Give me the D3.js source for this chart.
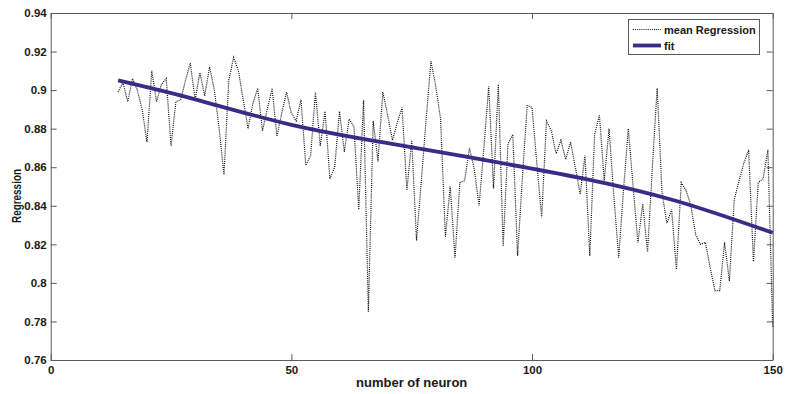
<!DOCTYPE html>
<html>
<head>
<meta charset="utf-8">
<script src="https://cdn.jsdelivr.net/npm/d3@7/dist/d3.min.js"></script>
<style>
  body { margin: 0; background: #fff; }
  svg text { font-family: "Liberation Sans", Arial, sans-serif; font-weight: bold; fill: #1a1a1a; }
</style>
</head>
<body>
<svg id="chart" width="787" height="394"></svg>
<script>
// neuron counts 14..150 and the mean regression
var neurons = d3.range(14, 151);
var meanRegression = [
  0.899, 0.904, 0.894, 0.906, 0.900, 0.890, 0.873, 0.910, 0.894, 0.903,
  0.906, 0.871, 0.894, 0.895, 0.905, 0.914, 0.895, 0.909, 0.897, 0.912,
  0.900, 0.880, 0.856, 0.905, 0.917, 0.910, 0.895, 0.880, 0.893, 0.901,
  0.879, 0.890, 0.901, 0.876, 0.888, 0.899,
  0.888, 0.884, 0.895, 0.861, 0.866, 0.899, 0.871, 0.889, 0.854, 0.860,
  0.889, 0.868, 0.885, 0.881, 0.838, 0.895, 0.785, 0.884, 0.863, 0.899,
  0.887, 0.874, 0.883, 0.891, 0.848, 0.874, 0.822, 0.853, 0.885, 0.915,
  0.902, 0.885, 0.824, 0.850, 0.813, 0.852, 0.853, 0.870, 0.859,
  0.840, 0.870, 0.902, 0.849, 0.903, 0.819, 0.872, 0.877, 0.814, 0.855,
  0.892, 0.891, 0.862, 0.834, 0.884, 0.879, 0.867, 0.874, 0.864, 0.873,
  0.860, 0.846, 0.866, 0.814, 0.877, 0.887, 0.853, 0.880, 0.845, 0.813,
  0.848, 0.880, 0.850, 0.821, 0.841, 0.816, 0.860,
  0.901, 0.847, 0.831, 0.838, 0.807, 0.852, 0.848, 0.840, 0.825, 0.820,
  0.821, 0.808, 0.796, 0.796, 0.821, 0.801, 0.843, 0.853, 0.862, 0.869,
  0.811, 0.852, 0.854, 0.869, 0.777
];
// fit curve
var fitX = [14, 30, 50, 70, 90, 110, 130, 150];
var fitY = [0.905, 0.8952, 0.882, 0.8725, 0.8638, 0.8545, 0.8425, 0.826];

var yTicks = [0.76, 0.78, 0.8, 0.82, 0.84, 0.86, 0.88, 0.9, 0.92, 0.94];
var xTicks = [0, 50, 100, 150];

var svg = d3.select("#chart");
var plotLeft = 50.7, plotRight = 772.7, plotTop = 13, plotBottom = 360;

var x = d3.scaleLinear().domain([0, 150]).range([plotLeft, plotRight]);
var y = d3.scaleLinear().domain([0.76, 0.94]).range([plotBottom, plotTop]);

var boxColor = "#5a5a5a";

// axes with inward ticks like matlab
var yAxis = svg.append("g")
  .attr("transform", "translate(" + plotLeft + ",0)")
  .call(d3.axisLeft(y).tickValues(yTicks).tickSizeInner(-6).tickSizeOuter(0)
    .tickPadding(4).tickFormat(function(d) { return String(+d.toFixed(2)); }));

var xAxis = svg.append("g")
  .attr("transform", "translate(0," + plotBottom + ")")
  .call(d3.axisBottom(x).tickValues(xTicks).tickSizeInner(-6).tickSizeOuter(0)
    .tickPadding(6).tickFormat(d3.format("d")));

var rAxis = svg.append("g")
  .attr("transform", "translate(" + plotRight + ",0)")
  .call(d3.axisRight(y).tickValues(yTicks).tickSizeInner(-6).tickSizeOuter(0).tickFormat(""));

var tAxis = svg.append("g")
  .attr("transform", "translate(0," + plotTop + ")")
  .call(d3.axisTop(x).tickValues(xTicks).tickSizeInner(-6).tickSizeOuter(0).tickFormat(""));

[xAxis, yAxis, rAxis, tAxis].forEach(function(g) {
  g.selectAll("path, line").attr("stroke", boxColor).attr("stroke-width", 1);
  g.selectAll("text").attr("fill", "#1a1a1a")
    .style("font-size", "11.5px").style("font-family", "'Liberation Sans', Arial, sans-serif")
    .style("font-weight", "bold");
});

// mean regression, dotted
var line = d3.line()
  .x(function(d, i) { return x(neurons[i]); })
  .y(function(d) { return y(d); });

svg.append("path")
  .datum(meanRegression)
  .attr("fill", "none")
  .attr("stroke", "#111")
  .attr("stroke-width", 1.2)
  .attr("stroke-dasharray", "1,1.1")
  .attr("d", line);

// fit curve
var fitLine = d3.line()
  .curve(d3.curveNatural)
  .x(function(d, i) { return x(fitX[i]); })
  .y(function(d) { return y(d); });

svg.append("path")
  .datum(fitY)
  .attr("fill", "none")
  .attr("stroke", "#3a2b86")
  .attr("stroke-width", 3.8)
  .attr("d", fitLine);

// axis labels
svg.append("text")
  .attr("x", (plotLeft + plotRight) / 2)
  .attr("y", 387)
  .attr("text-anchor", "middle")
  .style("font-size", "13px")
  .text("number of neuron");

svg.append("text")
  .attr("transform", "translate(21,196) rotate(-90)")
  .attr("text-anchor", "middle")
  .attr("textLength", 54)
  .attr("lengthAdjust", "spacingAndGlyphs")
  .style("font-size", "13px")
  .text("Regression");

// legend
var legend = svg.append("g");
legend.append("rect")
  .attr("x", 628.5).attr("y", 19.5)
  .attr("width", 131).attr("height", 35)
  .attr("fill", "#fff")
  .attr("stroke", boxColor);

legend.append("line")
  .attr("x1", 633).attr("x2", 661).attr("y1", 29.5).attr("y2", 29.5)
  .attr("stroke", "#111").attr("stroke-width", 1.2).attr("stroke-dasharray", "1,1.1");
legend.append("text")
  .attr("x", 664).attr("y", 33.5)
  .style("font-size", "11px")
  .text("mean Regression");

legend.append("line")
  .attr("x1", 633).attr("x2", 661).attr("y1", 45.5).attr("y2", 45.5)
  .attr("stroke", "#3a2b86").attr("stroke-width", 3.8);
legend.append("text")
  .attr("x", 664).attr("y", 49.5)
  .style("font-size", "11px")
  .text("fit");
</script>
</body>
</html>
